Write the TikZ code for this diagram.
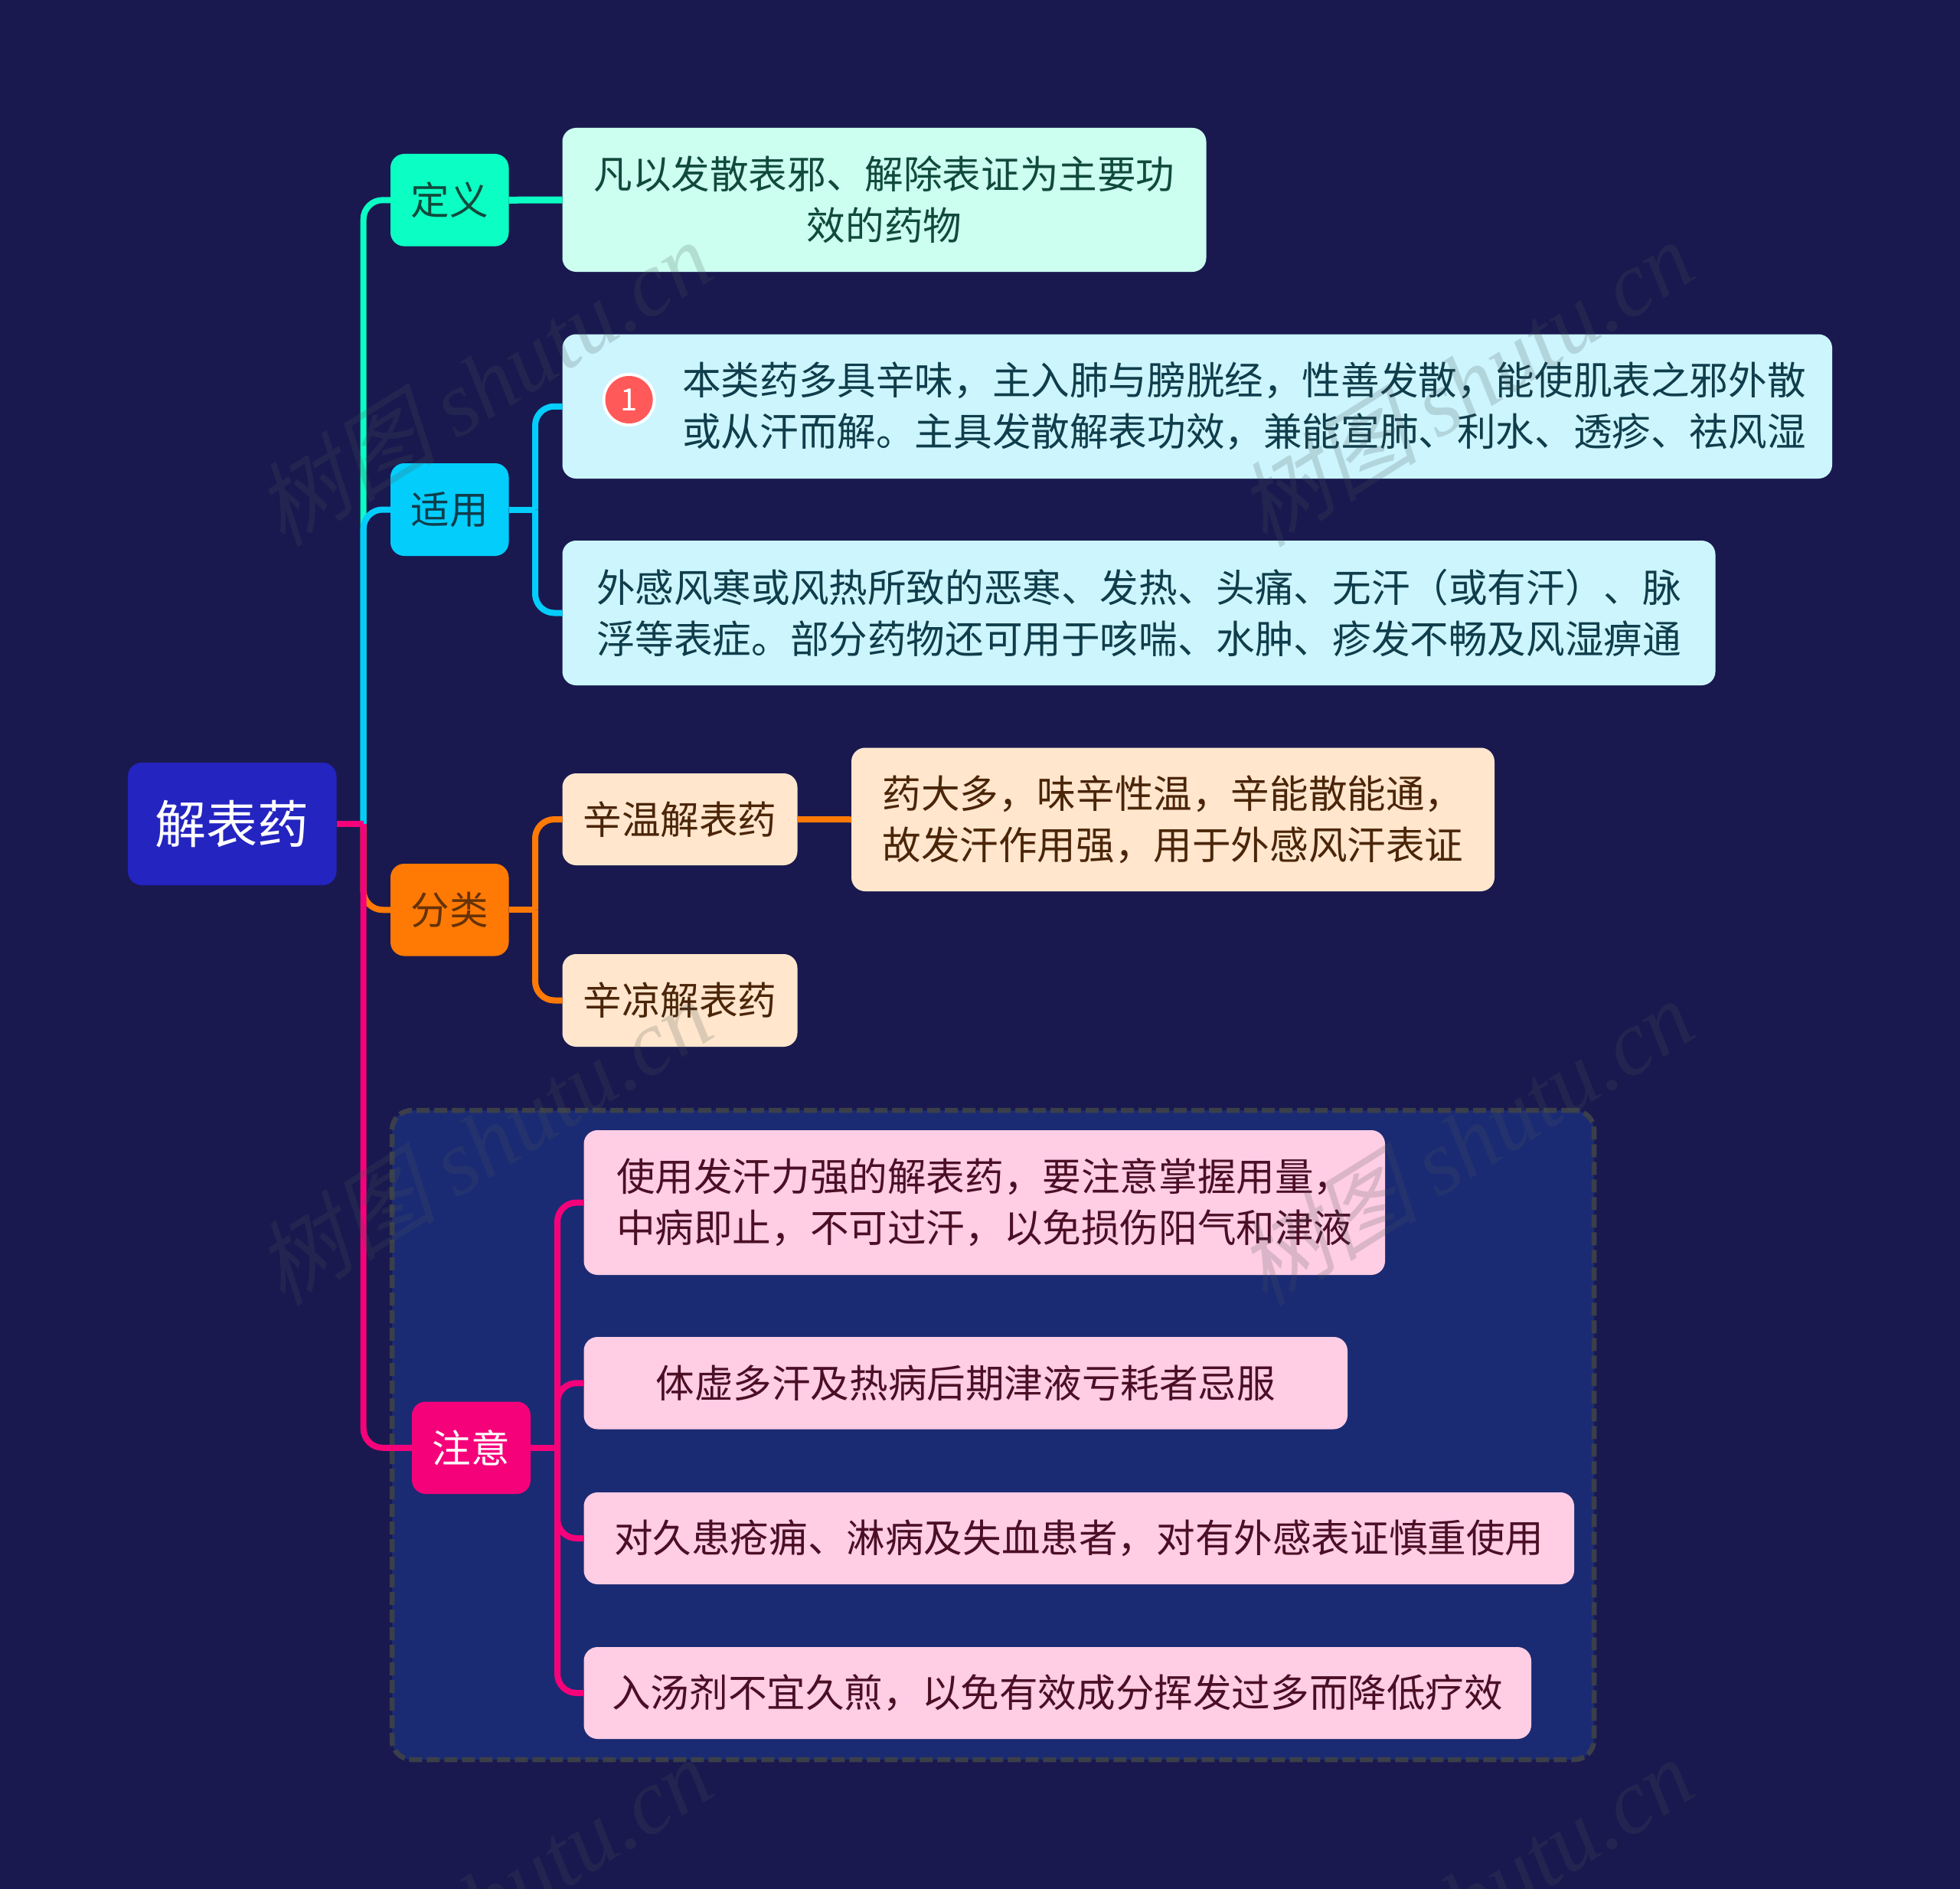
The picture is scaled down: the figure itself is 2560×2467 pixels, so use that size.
\documentclass[tikz,border=0pt]{standalone}
\usepackage{fontspec}
\setmainfont{Noto Sans CJK SC}
\newfontfamily\wmcjk[FakeSlant=0.25]{Noto Sans CJK SC}
\newfontfamily\wmlat{Liberation Serif}
\definecolor{bgc}{HTML}{19194F}
\definecolor{rootc}{HTML}{2424C0}
\definecolor{grn}{HTML}{0BFFC4}
\definecolor{grnl}{HTML}{CCFFF0}
\definecolor{grnt}{HTML}{104A3C}
\definecolor{blu}{HTML}{03CDFB}
\definecolor{blul}{HTML}{CCF5FE}
\definecolor{blut}{HTML}{0F3D4B}
\definecolor{org}{HTML}{FF7A05}
\definecolor{orgl}{HTML}{FFE6CD}
\definecolor{orgt}{HTML}{4B2508}
\definecolor{pnk}{HTML}{F5027A}
\definecolor{pnkl}{HTML}{FFCDE4}
\definecolor{pnkt}{HTML}{4B0F25}
\definecolor{grp}{HTML}{1B2B73}
\definecolor{grpb}{HTML}{3A3F4A}
\definecolor{wmc}{HTML}{4A5558}
\tikzset{
  mm/.style={rectangle,rounded corners=18pt,inner sep=0pt,outer sep=0pt,align=center,
    font=\fontsize{50.6}{67}\selectfont},
  rootbox/.style={mm,fill=rootc,text=white,font=\fontsize{67}{80}\selectfont},
  greenhead/.style={mm,fill=grn,text=grnt},
  greenleaf/.style={mm,fill=grnl,text=grnt},
  bluehead/.style={mm,fill=blu,text=blut},
  blueleaf/.style={mm,fill=blul,text=blut},
  orangehead/.style={mm,fill=org,text=orgt!85!org},
  orangeleaf/.style={mm,fill=orgl,text=orgt},
  pinkhead/.style={mm,fill=pnk,text=white},
  pinkleaf/.style={mm,fill=pnkl,text=pnkt},
  bodytext/.style={inner sep=0pt,outer sep=0pt,align=center,font=\fontsize{50.6}{67}\selectfont},
  groupbox/.style={rectangle,rounded corners=26pt,fill=grp,draw=grpb,line width=6.5pt,
    dash pattern=on 17pt off 6pt,inner sep=0pt,outer sep=0pt},
  link/.style={line width=8pt,rounded corners=25pt},
  stub/.style={line width=8pt},
  badge/.style={circle,fill=white,inner sep=0pt,minimum size=70pt},
  badgecore/.style={circle,fill=red!65!white,minimum size=62pt,inner sep=0pt,text=white,font=\fontsize{40}{40}\selectfont},
  wmark/.style={rotate=32,text=wmc,text opacity=0.2,font=\fontsize{120}{120}\selectfont,inner sep=0pt},
}
\newcommand\mmnode[7][]{%
  \pgfmathsetmacro\mmw{#5-#3}\pgfmathsetmacro\mmh{#6-#4}%
  \pgfmathsetmacro\mmx{(#5+#3)/2}\pgfmathsetmacro\mmy{(#6+#4)/2}%
  \node[#1,minimum width=\mmw pt,minimum height=\mmh pt] (#2) at (\mmx,\mmy) {#7};}
\begin{document}
\begin{tikzpicture}[x=1pt,y=-1pt]
\fill[bgc] (0,0) rectangle (2560,2467);
\useasboundingbox (0,0) rectangle (2560,2467);
\coordinate (tk) at (474.7,0);
\coordinate (ta) at (699,0);
\coordinate (tz) at (728,0);

\mmnode[groupbox]{grpzone}{512}{1450}{2082}{2298}{}
\mmnode[rootbox]{root}{167}{996}{439.5}{1156}{解表药}
\mmnode[greenhead]{ding}{510}{201}{664.5}{321.6}{定义}
\mmnode[greenleaf]{dingt}{734.5}{167}{1575.5}{355}{凡以发散表邪、解除表证为主要功\\效的药物}
\mmnode[bluehead]{shi}{510}{605}{664.5}{726}{适用}
\mmnode[blueleaf]{boxa}{734.5}{436.5}{2393}{625}{}
\node[bodytext,text=blut] (boxatext) at (1625,530.7) {本类药多具辛味，主入肺与膀胱经，性善发散，能使肌表之邪外散\\或从汗而解。主具发散解表功效，兼能宣肺、利水、透疹、祛风湿};
\node[badge] (badgeo) at (821.6,522) {};
\node[badgecore] (badgei) at (badgeo) {1};
\mmnode[blueleaf]{boxb}{734.5}{706}{2240.5}{895}{外感风寒或风热所致的恶寒、发热、头痛、无汗（或有汗）、脉\\浮等表症。部分药物还可用于咳喘、水肿、疹发不畅及风湿痹通}
\mmnode[orangehead]{fen}{510}{1128}{664.5}{1248.5}{分类}
\mmnode[orangeleaf]{wen}{734.5}{1010}{1041.5}{1130}{辛温解表药}
\mmnode[orangeleaf]{liang}{734.5}{1246}{1041.5}{1367}{辛凉解表药}
\mmnode[orangeleaf]{yao}{1112}{976.5}{1952}{1164}{药大多，味辛性温，辛能散能通，\\故发汗作用强，用于外感风汗表证}
\mmnode[pinkhead]{zhu}{538}{1830.5}{693}{1951}{注意}
\mmnode[pinkleaf]{ca}{762.5}{1476}{1809}{1665}{使用发汗力强的解表药，要注意掌握用量，\\中病即止，不可过汗，以免损伤阳气和津液}
\mmnode[pinkleaf]{cb}{762.5}{1746}{1760}{1866.5}{体虚多汗及热病后期津液亏耗者忌服}
\mmnode[pinkleaf]{cc}{762.5}{1949}{2056}{2069}{对久患疮痈、淋病及失血患者，对有外感表证慎重使用}
\mmnode[pinkleaf]{cd}{762.5}{2151}{2000}{2271}{入汤剂不宜久煎，以免有效成分挥发过多而降低疗效}

% connectors
\draw[link,grn] (tk |- root.east) -- (tk |- ding.west) -- (ding.west);
\draw[stub,grn,line width=9pt] (ding.east) -- (dingt.west);
\draw[link,blu] (tk |- root.east) -- (tk |- shi.west) -- (shi.west);
\draw[stub,blu] (shi.east) -- (ta |- shi.east);
\draw[link,blu] (ta |- shi.east) -- (ta |- boxa.west) -- (boxa.west);
\draw[link,blu] (ta |- shi.east) -- (ta |- boxb.west) -- (boxb.west);
\draw[link,org] (tk |- root.east) -- (tk |- fen.west) -- (fen.west);
\draw[stub,org] (fen.east) -- (ta |- fen.east);
\draw[link,org] (ta |- fen.east) -- (ta |- wen.west) -- (wen.west);
\draw[link,org] (ta |- fen.east) -- (ta |- liang.west) -- (liang.west);
\draw[stub,org] (wen.east) -- (yao.west);
\draw[stub,pnk] (root.east) -- (tk |- root.east);
\draw[link,pnk] (tk |- root.east) -- (tk |- zhu.west) -- (zhu.west);
\draw[stub,pnk] (zhu.east) -- (tz |- zhu.east);
\draw[link,pnk] (tz |- zhu.east) -- (tz |- ca.west) -- (ca.west);
\draw[link,pnk] (tz |- zhu.east) -- (tz |- cb.west) -- (cb.west);
\draw[link,pnk] (tz |- zhu.east) -- (tz |- cc.west) -- (cc.west);
\draw[link,pnk] (tz |- zhu.east) -- (tz |- cd.west) -- (cd.west);

% watermark
\begin{scope}
\clip (0,0) rectangle (2560,2467);
\node[wmark] (wa) at (630,500) {{\wmcjk 树图} \wmlat\itshape shutu.cn};
\node[wmark] (wb) at (1912,500) {{\wmcjk 树图} \wmlat\itshape shutu.cn};
\node[wmark] (wc) at (630,1491) {{\wmcjk 树图} \wmlat\itshape shutu.cn};
\node[wmark] (wd) at (1912,1491) {{\wmcjk 树图} \wmlat\itshape shutu.cn};
\node[wmark] (we) at (630,2482) {{\wmcjk 树图} \wmlat\itshape shutu.cn};
\node[wmark] (wf) at (1912,2482) {{\wmcjk 树图} \wmlat\itshape shutu.cn};
\end{scope}
\end{tikzpicture}
\end{document}
